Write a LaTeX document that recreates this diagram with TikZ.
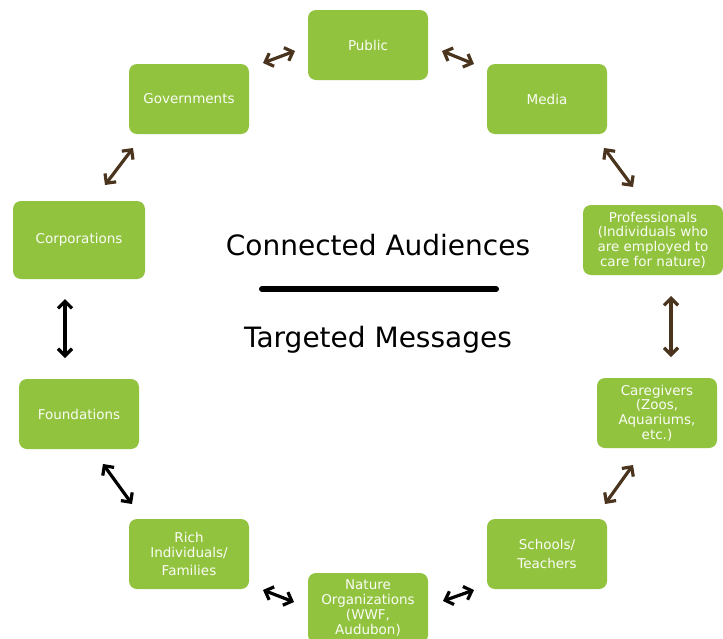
\documentclass[tikz,border=0pt]{standalone}
\usepackage{fontspec}
\setmainfont{DejaVu Sans}
\usetikzlibrary{arrows.meta}
\definecolor{leaf}{RGB}{146,195,63}
\definecolor{bark}{RGB}{74,52,30}

\begin{document}
\begin{tikzpicture}[x=1pt, y=-1pt,
    box/.style={fill=leaf, rounded corners=8pt, minimum width=120pt,
      minimum height=70pt, text=white!95!leaf, align=center, inner sep=1pt,
      font=\fontsize{13.5}{14.8}\selectfont},
    link/.style={{Straight Barb[length=7pt,width=14pt]}-{Straight Barb[length=7pt,width=14pt]},
      line width=3.2pt}]
    \useasboundingbox (0,0) rectangle (723,638);
    % audiences
    \node[box] (public) at (368,45) {Public};
    \node[box] (media) at (547,99) {Media};
    \node[box] (gov) at (189,99) {Governments};
    \node[box, minimum width=132pt, minimum height=78pt] (corp) at (79,240) {Corporations};
    \node[box, minimum width=140pt] (prof) at (653,240)
      {Professionals\\(Individuals who\\are employed to\\care for nature)};
    \node[box] (found) at (79,414) {Foundations};
    \node[box] (care) at (657,413) {Caregivers\\(Zoos,\\Aquariums,\\etc.)};
    \node[box] (rich) at (189,554) {Rich\\Individuals/\\[3pt]Families};
    \node[box] (school) at (547,554) {Schools/\\[4pt]Teachers};
    \node[box] (nature) at (368,608) {Nature\\Organizations\\(WWF,\\Audubon)};
    % centre
    \node[font=\fontsize{28}{32}\selectfont] (conn) at (378,245) {Connected Audiences};
    \node[font=\fontsize{28}{32}\selectfont] (msg) at (378,340) {Targeted Messages};
    \coordinate (barl) at (262,289);
    \coordinate (barr) at (496,289);
    \draw[line width=6pt, line cap=round] (barl) -- (barr);
    % arrow ends
    \foreach \n/\x/\y in {pg1/295/51, pg2/263/63, pm1/442/51, pm2/474/64,
        gc1/133/148, gc2/105/185, mp1/604/148, mp2/633/187,
        cf1/65/299, cf2/65/358, pc1/671/296, pc2/671/357,
        fr1/103/464, fr2/132/504, cs1/633/465, cs2/605/504,
        rn1/263/590, rn2/294/602, ns1/443/601, ns2/474/590} {
      \coordinate (\n) at (\x,\y);
    }
    \foreach \a/\c in {pg/bark, pm/bark, gc/bark, mp/bark, pc/bark, cs/bark,
        cf/black, fr/black, rn/black, ns/black} {
      \draw[link, \c] (\a1) -- (\a2);
    }
\end{tikzpicture}
\end{document}
